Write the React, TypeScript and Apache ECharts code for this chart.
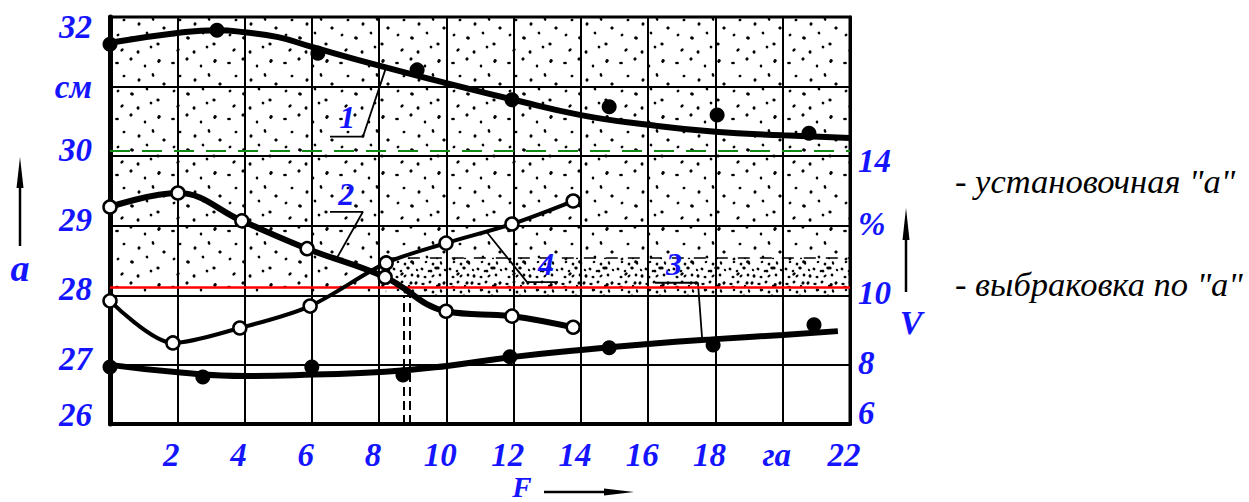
import React, { useEffect, useRef } from "react";
import * as echarts from "echarts";

// ---------- data ----------
const xTickValues = [0, 2, 4, 6, 8, 10, 12, 14, 16, 18, 20, 22];
const xTickLabels = ["", "2", "4", "6", "8", "10", "12", "14", "16", "18", "га", "22"];

const aTickValues = [26.15, 27, 28, 29, 30, 31, 32];
const aTickLabels = ["26", "27", "28", "29", "30", "см", "32"];
const vTickValues = [6.3, 8, 10, 12, 14];
const vTickLabels = ["6", "8", "10", "%", "14"];

// curve 1 (a, cm): fitted line and measured points
const c1LineX = [0, 2, 3.2, 4, 5, 6, 8, 10, 12, 14, 16, 18, 20, 22];
const c1LineA = [31.63, 31.77, 31.81, 31.78, 31.71, 31.57, 31.3, 31.05, 30.81, 30.59, 30.45, 30.35, 30.3, 30.26];
const c1PtX = [0, 3.18, 6.18, 9.13, 11.95, 14.84, 18.05, 20.78];
const c1PtA = [31.61, 31.81, 31.48, 31.24, 30.81, 30.71, 30.59, 30.33];

// curve 2 (a, cm)
const c2X = [0, 2.02, 3.92, 5.86, 8.18, 9.99, 11.95, 13.77];
const c2A = [29.27, 29.47, 29.07, 28.67, 28.26, 27.77, 27.7, 27.54];

// curve 3 (V, %): fitted line and measured points
const c3LineX = [0, 2.18, 4.07, 6.07, 8.18, 10.02, 12, 14, 16, 18, 20, 21.64];
const c3LineV = [8.0, 7.77, 7.68, 7.72, 7.8, 7.97, 8.23, 8.43, 8.6, 8.74, 8.86, 8.97];
const c3PtX = [0, 2.76, 6.0, 8.71, 11.89, 14.84, 17.93, 20.93];
const c3PtV = [7.94, 7.65, 7.94, 7.71, 8.23, 8.49, 8.57, 9.15];

// curve 4 (V, %)
const c4X = [0, 1.87, 3.86, 5.95, 8.21, 9.99, 11.95, 13.77];
const c4V = [9.84, 8.63, 9.06, 9.69, 10.93, 11.5, 12.05, 12.71];

// reference levels (a, cm)
const setpointA = 30.08;
const rejectA = 28.12;
const bandTopA = 28.54;
const bandStartX = 8.2;
const rejectMarkX = [8.74, 8.92];

// curve number annotations
const curveNames = ["1", "2", "4", "3"];
const curveNameX = [7.05, 7.02, 12.96, 16.77];
const curveNameA = [30.56, 29.46, 28.45, 28.45];
const leaderX = [
  [6.54, 7.52, 8.21],
  [6.54, 7.52, 6.75],
  [13.32, 12.4, 11.18],
  [16.2, 17.48, 17.6],
];
const leaderA = [
  [30.28, 30.28, 31.28],
  [29.2, 29.2, 28.54],
  [28.19, 28.19, 28.92],
  [28.18, 28.18, 27.4],
];

// ---------- style ----------
const W = 1249;
const H = 502;
const BLUE = "#1414ff";
const SERIF = "'Liberation Serif', 'Times New Roman', serif";

const sparseDots = [
  [5, 7], [19, 3], [33, 10], [47, 5], [12, 20], [27, 24], [41, 19], [52, 28],
  [6, 35], [20, 38], [35, 33], [46, 44], [10, 50], [26, 52], [39, 47],
];
const denseDots = [
  [3, 4], [10, 2], [17, 6], [24, 3], [6, 10], [13, 12], [21, 11], [2, 17],
  [9, 19], [16, 16], [25, 18], [5, 25], [13, 24], [20, 23],
];

function makeTile(size: number, dots: number[][], r: number) {
  const c = document.createElement("canvas");
  c.width = size;
  c.height = size;
  const ctx = c.getContext("2d")!;
  ctx.fillStyle = "#000";
  dots.forEach(([x, y], i) => {
    ctx.beginPath();
    ctx.ellipse(x, y, r * (i % 3 === 0 ? 1.3 : 1), r * (i % 2 === 0 ? 0.85 : 1.1), (i * 0.7) % 3, 0, Math.PI * 2);
    ctx.fill();
  });
  return c;
}

const zip = (xs: number[], ys: number[]) => xs.map((x, i) => [x, ys[i]]);

const labelFont = {
  color: BLUE,
  fontFamily: SERIF,
  fontStyle: "italic" as const,
  fontWeight: "bold" as const,
  fontSize: 33,
};

export default function App() {
  const ref = useRef<HTMLDivElement>(null);

  useEffect(() => {
    if (!ref.current) return;
    const chart = echarts.init(ref.current, null, { renderer: "svg" });
    const sparse = makeTile(56, sparseDots, 1.5);
    const dense = makeTile(28, denseDots, 1.35);

    const aRich = {
      top: { ...labelFont, padding: [20, 0, 0, 0] },
      mid: { ...labelFont, padding: [0, 0, 12, 0] },
      bot: { ...labelFont, padding: [0, 0, 18, 0] },
      plain: { ...labelFont },
    };
    const vRich = {
      down: { ...labelFont, padding: [10, 0, 0, 0] },
      mid: { ...labelFont, padding: [0, 0, 4, 0] },
      bot: { ...labelFont, padding: [0, 0, 22, 0] },
    };

    const idxOf = (arr: number[], v: number) =>
      arr.findIndex((t) => Math.abs(t - v) < 1e-6);

    const option: any = {
      animation: false,
      backgroundColor: "#fff",
      grid: {
        left: 110,
        right: W - 850,
        top: 17,
        bottom: H - 424,
        show: true,
        borderColor: "#000",
        borderWidth: 3,
        backgroundColor: "#fff",
      },
      xAxis: {
        type: "value",
        min: 0,
        max: 22,
        interval: 2,
        axisLine: { show: true, lineStyle: { color: "#000", width: 4 } },
        axisTick: { show: false },
        splitLine: { show: true, lineStyle: { color: "#000", width: 2 } },
        axisLabel: {
          ...labelFont,
          margin: 14,
          padding: [0, 12, 0, 0],
          formatter: (v: number) => {
            const i = idxOf(xTickValues, v);
            return i >= 0 ? xTickLabels[i] : "";
          },
        },
      },
      yAxis: [
        {
          type: "value",
          min: 26.15,
          max: 32,
          axisLine: { show: true, lineStyle: { color: "#000", width: 5 } },
          axisTick: { show: false, customValues: aTickValues },
          splitLine: { show: true, lineStyle: { color: "#000", width: 2 } },
          axisLabel: {
            ...labelFont,
            margin: 18,
            customValues: aTickValues,
            rich: aRich,
            formatter: (v: number) => {
              const i = idxOf(aTickValues, v);
              if (i < 0) return "";
              const key =
                i === 0 ? "bot" : i === aTickValues.length - 1 ? "top" : aTickLabels[i] === "см" ? "plain" : "mid";
              return `{${key}|${aTickLabels[i]}}`;
            },
          },
        },
        {
          type: "value",
          min: 6.3,
          max: 18,
          position: "right",
          axisLine: { show: true, lineStyle: { color: "#000", width: 3 } },
          axisTick: { show: false, customValues: vTickValues },
          splitLine: { show: false },
          axisLabel: {
            ...labelFont,
            margin: 8,
            customValues: vTickValues,
            rich: vRich,
            formatter: (v: number) => {
              const i = idxOf(vTickValues, v);
              if (i < 0) return "";
              const key = i === 0 ? "bot" : i === vTickValues.length - 1 ? "down" : "mid";
              return `{${key}|${vTickLabels[i]}}`;
            },
          },
        },
      ],
      series: [
        {
          type: "line",
          name: "decor",
          data: [],
          silent: true,
          markArea: {
            silent: true,
            data: [
              [
                { coord: [0, 28], itemStyle: { color: { image: sparse, repeat: "repeat", imageWidth: 56, imageHeight: 56 } } },
                { coord: [22, 32] },
              ],
              [
                { coord: [bandStartX, 28], itemStyle: { color: { image: dense, repeat: "repeat", imageWidth: 28, imageHeight: 28 } } },
                { coord: [22, bandTopA] },
              ],
            ],
          },
          markLine: {
            silent: true,
            symbol: "none",
            label: { show: false },
            data: [
              { yAxis: rejectA, lineStyle: { color: "#ff0000", width: 2.5, type: "solid" } },
              { yAxis: setpointA, lineStyle: { color: "#118811", width: 2, type: [20, 12] } },
              [
                { coord: [bandStartX, bandTopA], lineStyle: { color: "#000", width: 1.5, type: [12, 10] } },
                { coord: [22, bandTopA] },
              ],
              ...rejectMarkX.map((x) => [
                { coord: [x, 26.15], lineStyle: { color: "#000", width: 2, type: [9, 5] } },
                { coord: [x, 28] },
              ]),
            ],
          },
        },
        // curve 1
        {
          type: "line",
          name: "1-fit",
          data: zip(c1LineX, c1LineA),
          smooth: 0.5,
          symbol: "none",
          lineStyle: { color: "#000", width: 6 },
          z: 5,
        },
        {
          type: "scatter",
          name: "1-pts",
          data: zip(c1PtX, c1PtA),
          symbol: "circle",
          symbolSize: 15,
          itemStyle: { color: "#000", opacity: 1 },
          z: 6,
        },
        // curve 2
        {
          type: "line",
          name: "2",
          data: zip(c2X, c2A),
          smooth: 0.4,
          symbol: "circle",
          symbolSize: 13,
          showAllSymbol: true,
          lineStyle: { color: "#000", width: 6 },
          itemStyle: { color: "#fff", borderColor: "#000", borderWidth: 2.5 },
          z: 6,
        },
        // curve 3
        {
          type: "line",
          name: "3-fit",
          yAxisIndex: 1,
          data: zip(c3LineX, c3LineV),
          smooth: 0.5,
          symbol: "none",
          lineStyle: { color: "#000", width: 6 },
          z: 5,
        },
        {
          type: "scatter",
          name: "3-pts",
          yAxisIndex: 1,
          data: zip(c3PtX, c3PtV),
          symbol: "circle",
          symbolSize: 15,
          itemStyle: { color: "#000", opacity: 1 },
          z: 6,
        },
        // curve 4
        {
          type: "line",
          name: "4",
          yAxisIndex: 1,
          data: zip(c4X, c4V),
          smooth: 0.3,
          symbol: "circle",
          symbolSize: 13,
          showAllSymbol: true,
          lineStyle: { color: "#000", width: 4 },
          itemStyle: { color: "#fff", borderColor: "#000", borderWidth: 2.5 },
          z: 7,
        },
        // leader lines
        ...leaderX.map((xs, k) => ({
          type: "line",
          name: `leader-${k}`,
          data: zip(xs, leaderA[k]),
          symbol: "none",
          silent: true,
          lineStyle: { color: "#000", width: 1.8 },
          z: 4,
        })),
      ],
      graphic: [
        // left axis name "a" with arrow
        { type: "line", shape: { x1: 20, y1: 246, x2: 20, y2: 175 }, style: { stroke: "#000", lineWidth: 2.5 } },
        { type: "polygon", shape: { points: [[20, 157], [16.5, 188], [23.5, 188]] }, style: { fill: "#000" } },
        { type: "text", x: 20, y: 268, style: { text: "a", ...labelFont, fill: BLUE, fontSize: 38, align: "center", verticalAlign: "middle" } },
        // right axis name "V" with arrow
        { type: "line", shape: { x1: 906, y1: 292, x2: 906, y2: 225 }, style: { stroke: "#000", lineWidth: 2.5 } },
        { type: "polygon", shape: { points: [[906, 208], [902.5, 240], [909.5, 240]] }, style: { fill: "#000" } },
        { type: "text", x: 911, y: 322, style: { text: "V", ...labelFont, fill: BLUE, fontSize: 34, align: "center", verticalAlign: "middle" } },
        // x axis name "F" with arrow
        { type: "text", x: 522, y: 487, style: { text: "F", ...labelFont, fill: BLUE, fontSize: 29, align: "center", verticalAlign: "middle" } },
        { type: "line", shape: { x1: 544, y1: 492, x2: 615, y2: 492 }, style: { stroke: "#000", lineWidth: 2.5 } },
        { type: "polygon", shape: { points: [[634, 492], [604, 488.5], [604, 495.5]] }, style: { fill: "#000" } },
        // legend notes
        {
          type: "text",
          x: 955,
          y: 181,
          style: { text: "- установочная \"а\"", fill: "#000", fontFamily: SERIF, fontStyle: "italic", fontSize: 34.5, verticalAlign: "middle" },
        },
        {
          type: "text",
          x: 955,
          y: 284,
          style: { text: "- выбраковка по \"а\"", fill: "#000", fontFamily: SERIF, fontStyle: "italic", fontSize: 34.5, verticalAlign: "middle" },
        },
      ],
    };

    chart.setOption(option);

    // curve numbers, positioned through the chart's own axes
    const nameTexts = curveNames.map((n, i) => {
      const [px, py] = chart.convertToPixel({ xAxisIndex: 0, yAxisIndex: 0 }, [curveNameX[i], curveNameA[i]]) as number[];
      return {
        type: "text",
        x: px,
        y: py,
        z: 100,
        style: {
          text: n,
          fill: BLUE,
          fontFamily: SERIF,
          fontStyle: "italic",
          fontWeight: "bold",
          fontSize: 32,
          align: "center",
          verticalAlign: "middle",
        },
      };
    });
    chart.setOption({ graphic: [...option.graphic, ...nameTexts] });

    return () => chart.dispose();
  }, []);

  return (
    <div
      ref={ref}
      style={{ position: "fixed", left: 0, top: 0, width: W, height: H, background: "#fff" }}
    />
  );
}
